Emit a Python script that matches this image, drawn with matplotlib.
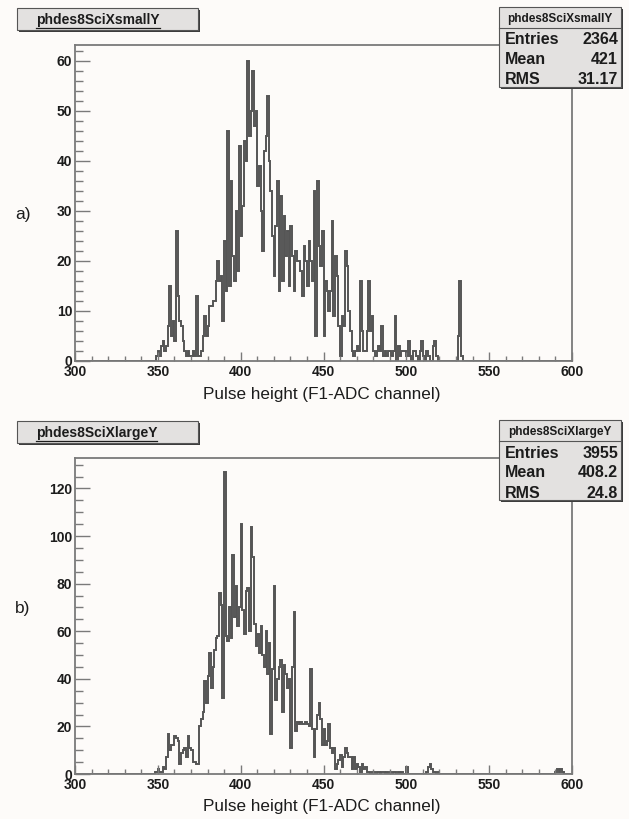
import matplotlib
matplotlib.use("Agg")
import matplotlib.pyplot as plt
import numpy as np
from matplotlib.patches import Rectangle
from matplotlib.lines import Line2D
from matplotlib.ticker import MultipleLocator

W, H = 629, 819
plt.rcParams['font.family'] = ['Liberation Sans', 'DejaVu Sans']

# pulse height spectra, one F1-ADC channel per bin
first_a = 348
counts_a = [
    0, 1, 2, 1, 3, 4, 2, 3, 7, 15,
    5, 8, 4, 26, 13, 8, 7, 4, 2, 1,
    2, 1, 1, 2, 1, 13, 1, 1, 2, 5,
    9, 5, 7, 11, 11, 12, 12, 16, 20, 16,
    17, 8, 24, 14, 46, 15, 36, 21, 16, 30,
    18, 43, 25, 31, 44, 40, 60, 45, 50, 58,
    47, 50, 35, 39, 30, 22, 42, 45, 53, 40,
    34, 25, 17, 27, 36, 14, 33, 16, 29, 21,
    26, 15, 27, 21, 14, 22, 20, 20, 18, 13,
    23, 20, 15, 24, 20, 16, 34, 5, 36, 23,
    19, 26, 5, 16, 14, 10, 14, 28, 9, 21,
    17, 7, 1, 9, 7, 22, 19, 10, 6, 2,
    1, 2, 3, 2, 16, 6, 2, 2, 6, 16,
    6, 9, 2, 1, 2, 3, 2, 7, 1, 2,
    1, 2, 2, 1, 2, 9, 0, 3, 1, 2,
    2, 2, 1, 4, 1, 0, 2, 2, 1, 0,
    2, 4, 1, 0, 2, 1, 0, 0, 3, 4,
    1, 0, 0, 0, 0, 0, 0, 0, 0, 0,
    0, 0, 0, 5, 16, 1,
]

first_b = 347
counts_b = [
    0, 1, 1, 2, 1, 1, 3, 2, 7, 17,
    10, 12, 12, 16, 15, 14, 4, 9, 10, 11,
    7, 16, 11, 10, 5, 5, 4, 4, 20, 23,
    26, 39, 30, 41, 51, 36, 45, 52, 57, 58,
    76, 71, 32, 127, 58, 56, 70, 57, 92, 66,
    79, 62, 70, 105, 69, 59, 77, 78, 60, 104,
    91, 63, 54, 59, 51, 62, 50, 45, 60, 42,
    55, 17, 44, 79, 31, 40, 45, 48, 26, 46,
    42, 36, 40, 11, 45, 68, 18, 22, 21, 22,
    21, 21, 22, 21, 20, 44, 19, 7, 19, 25,
    30, 23, 12, 19, 12, 14, 21, 11, 9, 11,
    2, 4, 6, 8, 3, 7, 11, 9, 7, 7,
    2, 7, 2, 4, 3, 1, 4, 2, 3, 1,
    1, 0, 1, 1, 0, 1, 1, 0, 1, 1,
    0, 1, 0, 1, 0, 1, 1, 0, 1, 0,
    1, 0, 0, 3, 0, 0, 0, 0, 0, 0,
    0, 0, 0, 0, 0, 1, 3, 4, 2, 1,
    1, 0, 1,
]
tail_first_b = 590
tail_b = [1, 2, 1, 2, 1]

xlo, xhi = 300, 600
x_major = [300, 350, 400, 450, 500, 550, 600]

stats_a = [("Entries", "2364"), ("Mean", "421"), ("RMS", "31.17")]
stats_b = [("Entries", "3955"), ("Mean", "408.2"), ("RMS", "24.8")]

line_col = '#555555'
frame_col = '#7a7a7a'
bg = '#fdfbf9'

fig = plt.figure(figsize=(W / 100, H / 100), dpi=100, facecolor=bg)


def fx(x):
    return x / W


def fy(y):
    return 1 - y / H


def box(x0, y0, x1, y1):
    # grey pad with a dark drop shadow, ROOT style
    sh = Rectangle((fx(x0 + 2), fy(y1 + 2)), (x1 - x0) / W, (y1 - y0) / H,
                   transform=fig.transFigure, facecolor='#3c3c3c',
                   edgecolor='none', zorder=5)
    fr = Rectangle((fx(x0), fy(y1)), (x1 - x0) / W, (y1 - y0) / H,
                   transform=fig.transFigure, facecolor='#e3e1e0',
                   edgecolor='#555555', lw=0.8, zorder=6)
    fig.add_artist(sh)
    fig.add_artist(fr)


def fill_bins(first, counts):
    vals = np.zeros(xhi - xlo)
    i = first - xlo
    vals[i:i + len(counts)] = counts
    return vals


def panel(dy, name, vals, ymax, ystep, yminor, stats, tag, tag_y):
    ax = fig.add_axes([fx(75), fy(361 + dy), 497 / W, 316 / H])
    ax.set_facecolor(bg)
    edges = np.arange(xlo, xhi + 1)
    ax.stairs(vals, edges, color=line_col, lw=1.4, baseline=0)
    ax.set_xlim(xlo, xhi)
    ax.set_ylim(0, ymax)

    yt = list(range(0, int(ymax) + 1, ystep))
    ax.set_xticks(x_major)
    ax.set_xticklabels([str(v) for v in x_major], fontweight='bold', fontsize=10)
    ax.set_yticks(yt)
    ax.set_yticklabels([str(v) for v in yt], fontweight='bold', fontsize=10)
    ax.xaxis.set_minor_locator(MultipleLocator(10))
    ax.yaxis.set_minor_locator(MultipleLocator(yminor))
    ax.tick_params(axis='x', which='major', direction='in', length=6.5,
                   width=1.0, color=frame_col, pad=3, labelcolor='#1c1c1c')
    ax.tick_params(axis='x', which='minor', direction='in', length=3.3,
                   width=1.0, color=frame_col)
    ax.tick_params(axis='y', which='major', direction='in', length=11,
                   width=1.0, color=frame_col, pad=2, labelcolor='#1c1c1c')
    ax.tick_params(axis='y', which='minor', direction='in', length=5.5,
                   width=1.0, color=frame_col)
    for s in ax.spines.values():
        s.set_color(frame_col)
        s.set_linewidth(1.3)

    # histogram title pad
    box(17, 8 + dy, 198, 30 + dy)
    t = fig.text(fx(36), fy(20 + dy), name, fontsize=10, fontweight='bold',
                 ha='left', va='center', color='#1c1c1c', zorder=7)
    r = fig.canvas.get_renderer()
    bb = t.get_window_extent(r)
    fig.add_artist(Line2D([bb.x0 / W, bb.x1 / W], [fy(28 + dy)] * 2,
                          transform=fig.transFigure, color='#1c1c1c',
                          lw=0.9, zorder=7))

    # statistics pad
    box(499, 7 + dy, 621, 87 + dy)
    fig.add_artist(Line2D([fx(499), fx(621)], [fy(28 + dy)] * 2,
                          transform=fig.transFigure, color='#555555',
                          lw=0.8, zorder=7))
    fig.text(fx(560), fy(19 + dy), name, fontsize=8.5, fontweight='bold',
             ha='center', va='center', color='#1c1c1c', zorder=7)
    for k, (lab, val) in enumerate(stats):
        yy = 40 + 20 * k + dy
        fig.text(fx(505), fy(yy), lab, fontsize=11.5, fontweight='bold',
                 ha='left', va='center', color='#1c1c1c', zorder=7)
        fig.text(fx(618), fy(yy), val, fontsize=11.5, fontweight='bold',
                 ha='right', va='center', color='#1c1c1c', zorder=7)

    fig.text(fx(322), fy(394 + dy), "Pulse height (F1-ADC channel)",
             fontsize=12.3, ha='center', va='center', color='#1c1c1c')
    fig.text(fx(23), fy(tag_y), tag, fontsize=12.5, ha='center',
             va='center', color='#1c1c1c')
    return ax


panel(0, "phdes8SciXsmallY", fill_bins(first_a, counts_a), 63.2, 10, 2,
      stats_a, "a)", 215)
vals_b = fill_bins(first_b, counts_b)
vals_b[tail_first_b - xlo:tail_first_b - xlo + len(tail_b)] = tail_b
panel(413, "phdes8SciXlargeY", vals_b, 132.8, 20, 5, stats_b, "b)", 609)

fig.savefig("out.png", dpi=100, facecolor=bg)
